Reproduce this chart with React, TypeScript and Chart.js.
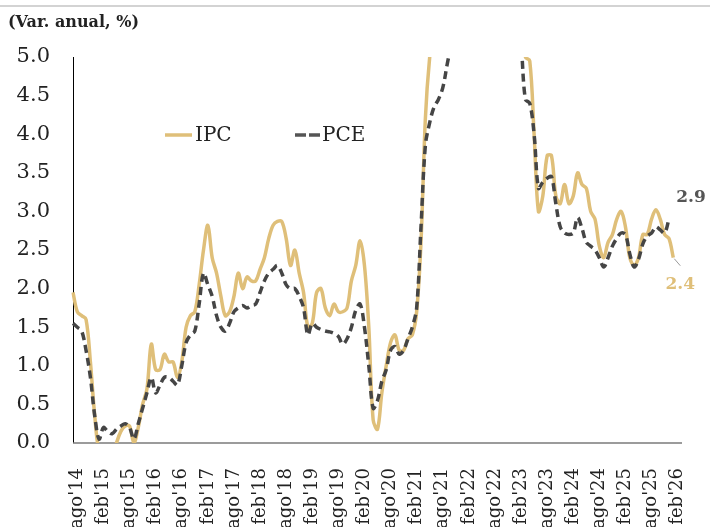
import { useEffect, useRef } from 'react';
import { Chart, registerables } from 'chart.js';

Chart.register(...registerables);

// ---- categories (monthly, jul'14 .. mar'26) ----
const MONTH_NAMES = ['ene', 'feb', 'mar', 'abr', 'may', 'jun', 'jul', 'ago', 'sep', 'oct', 'nov', 'dic'];
const FIRST_YEAR = 2014;
const FIRST_MONTH = 6; // julio
const N_MONTHS = 141;
const categories: string[] = Array.from({ length: N_MONTHS }, (_, i) => {
  const m = (FIRST_MONTH + i) % 12;
  const y = FIRST_YEAR + Math.floor((FIRST_MONTH + i) / 12);
  return `${MONTH_NAMES[m]}'${String(y).slice(2)}`;
});

// ---- tick labels shown on the x axis ----
const tickLabels = [
  "ago'14", "feb'15", "ago'15", "feb'16", "ago'16", "feb'17", "ago'17", "feb'18",
  "ago'18", "feb'19", "ago'19", "feb'20", "ago'20", "feb'21", "ago'21", "feb'22",
  "ago'22", "feb'23", "ago'23", "feb'24", "ago'24", "feb'25", "ago'25", "feb'26",
];

// ---- series (var. anual, %) ----
const ipc = [
  1.95, 1.7, 1.65, 1.6, 1.05, 0.35,
  -0.1, -0.05, -0.1, -0.2, 0.0, 0.15, 0.22, 0.22, 0.0, 0.2, 0.5, 0.7,
  1.28, 0.95, 0.95, 1.15, 1.05, 1.05, 0.85, 1.05, 1.5, 1.65, 1.7, 2.05,
  2.5, 2.82, 2.4, 2.2, 1.9, 1.65, 1.7, 1.9, 2.2, 2.0, 2.15, 2.1,
  2.1, 2.25, 2.4, 2.65, 2.82, 2.87, 2.87, 2.65, 2.3, 2.5, 2.2, 1.95,
  1.5, 1.55, 1.95, 2.0, 1.75, 1.65, 1.8, 1.7, 1.7, 1.75, 2.1, 2.3,
  2.62, 2.3, 1.5, 0.3, 0.18, 0.65, 1.0, 1.3, 1.4, 1.2, 1.2, 1.35,
  1.4, 1.7, 2.6, 4.2, 5.0, 5.4, 5.4, 5.3, 5.4, 6.2, 6.8, 7.0,
  7.5, 7.9, 8.5, 8.3, 8.6, 9.1, 8.5, 8.3, 8.2, 7.7, 7.1, 6.5,
  6.4, 6.0, 5.0, 4.95, 4.0, 3.0, 3.2, 3.72, 3.72, 3.2, 3.1, 3.35,
  3.1, 3.2, 3.5, 3.35, 3.3, 3.0, 2.9, 2.55, 2.4, 2.6, 2.7, 2.9,
  3.0, 2.8, 2.4, 2.3, 2.4, 2.7, 2.7, 2.9, 3.02, 2.9, 2.7, 2.65,
  2.4,
];

const pce = [
  1.55, 1.5, 1.45, 1.2, 0.85, 0.35,
  0.05, 0.2, 0.15, 0.12, 0.18, 0.22, 0.25, 0.2, 0.05, 0.25, 0.45, 0.65,
  0.85, 0.65, 0.75, 0.85, 0.85, 0.8, 0.75, 1.0, 1.3, 1.4, 1.45, 1.8,
  2.2, 2.05, 1.9, 1.65, 1.5, 1.45, 1.55, 1.7, 1.75, 1.78, 1.75, 1.78,
  1.8, 1.95, 2.1, 2.2, 2.25, 2.3, 2.2, 2.05, 2.0, 2.0, 1.9, 1.75,
  1.4, 1.55, 1.5, 1.47, 1.45, 1.44, 1.42, 1.38, 1.28, 1.35, 1.5, 1.72,
  1.8, 1.5, 1.0, 0.45, 0.55, 0.8, 0.95, 1.2, 1.25, 1.15, 1.2, 1.35,
  1.5, 1.75, 2.8, 3.85, 4.15, 4.35, 4.45, 4.6, 4.9, 5.2, 5.7, 6.0,
  6.2, 6.5, 6.8, 6.4, 6.5, 7.1, 6.6, 6.5, 6.5, 6.3, 5.8, 5.4,
  5.5, 5.15, 4.45, 4.4, 4.0, 3.3, 3.38, 3.43, 3.45, 3.1, 2.8, 2.72,
  2.7, 2.72, 2.92, 2.78, 2.6, 2.55, 2.5, 2.4, 2.28, 2.4, 2.55, 2.65,
  2.72, 2.7, 2.45, 2.28, 2.38, 2.58, 2.68, 2.72, 2.8, 2.76, 2.72, 2.9,
];

const GOLD = '#dfbf79';
const DARK = '#454545';
const FONT = '"DejaVu Serif", serif';

const decorPlugin = {
  id: 'decor',
  beforeDraw(chart: any) {
    const ctx = chart.ctx;
    ctx.save();
    ctx.strokeStyle = '#c4c4c4';
    ctx.lineWidth = 1.5;
    ctx.beginPath();
    ctx.moveTo(0, 6);
    ctx.lineTo(chart.width, 6);
    ctx.stroke();
    ctx.fillStyle = '#222';
    ctx.font = `bold 16px ${FONT}`;
    ctx.textBaseline = 'middle';
    ctx.textAlign = 'left';
    ctx.fillText('(Var. anual, %)', 8, 23);
    ctx.restore();
  },
  beforeDatasetsDraw(chart: any) {
    const ctx = chart.ctx;
    const a = chart.chartArea;
    ctx.save();
    ctx.strokeStyle = '#000';
    ctx.lineWidth = 1;
    ctx.beginPath();
    ctx.moveTo(a.left + 0.5, a.top);
    ctx.lineTo(a.left + 0.5, a.bottom);
    ctx.stroke();
    ctx.strokeStyle = '#7a7a7a';
    ctx.lineWidth = 1.5;
    ctx.beginPath();
    ctx.moveTo(a.left, a.bottom);
    ctx.lineTo(a.right, a.bottom);
    ctx.stroke();
    ctx.restore();
  },
  afterDatasetsDraw(chart: any) {
    const ctx = chart.ctx;
    const area = chart.chartArea;
    ctx.save();
    // legend
    const ly = 135;
    const lx = area.left + 92;
    ctx.lineWidth = 3.5;
    ctx.strokeStyle = GOLD;
    ctx.beginPath();
    ctx.moveTo(lx, ly);
    ctx.lineTo(lx + 27, ly);
    ctx.stroke();
    ctx.fillStyle = '#222';
    ctx.font = `20px ${FONT}`;
    ctx.textBaseline = 'middle';
    ctx.textAlign = 'left';
    ctx.fillText('IPC', lx + 30, ly + 1);
    const px = lx + 130;
    ctx.strokeStyle = '#555';
    ctx.beginPath();
    ctx.moveTo(px, ly);
    ctx.lineTo(px + 11, ly);
    ctx.moveTo(px + 14, ly);
    ctx.lineTo(px + 25, ly);
    ctx.stroke();
    ctx.fillText('PCE', px + 27, ly + 1);

    // end labels
    const pceMeta = chart.getDatasetMeta(0);
    const ipcMeta = chart.getDatasetMeta(1);
    const pEnd = pceMeta.data[pceMeta.data.length - 1];
    const iEnd = ipcMeta.data[ipcMeta.data.length - 1];
    ctx.font = `bold 17px ${FONT}`;
    ctx.textAlign = 'center';
    ctx.fillStyle = '#555';
    ctx.fillText(pce[pce.length - 1].toFixed(1), pEnd.x + 22, pEnd.y - 22);
    ctx.strokeStyle = '#9a9a9a';
    ctx.lineWidth = 1;
    ctx.beginPath();
    ctx.moveTo(iEnd.x + 1, iEnd.y + 1);
    ctx.lineTo(iEnd.x + 7, iEnd.y + 8);
    ctx.stroke();
    ctx.fillStyle = GOLD;
    ctx.fillText(ipc[ipc.length - 1].toFixed(1), iEnd.x + 7, iEnd.y + 27);
    ctx.restore();
  },
};

export default function App() {
  const ref = useRef<HTMLCanvasElement | null>(null);
  useEffect(() => {
    if (!ref.current) return;
    Chart.defaults.font.family = FONT;
    const chart = new Chart(ref.current, {
      type: 'line',
      data: {
        labels: categories,
        datasets: [
          {
            label: 'PCE',
            data: pce,
            borderColor: DARK,
            borderWidth: 3.5,
            borderDash: [8, 5],
            borderCapStyle: 'butt',
            pointRadius: 0,
            tension: 0.35,
            fill: false,
            order: 0,
          },
          {
            label: 'IPC',
            data: ipc,
            borderColor: GOLD,
            borderWidth: 3.5,
            pointRadius: 0,
            tension: 0.35,
            fill: false,
            order: 1,
          },
        ],
      },
      options: {
        responsive: false,
        animation: false,
        layout: { padding: { top: 57, right: 28, left: 0, bottom: 0 } },
        plugins: {
          legend: { display: false },
          tooltip: { enabled: false },
        },
        scales: {
          x: {
            type: 'category',
            offset: false,
            grid: { display: false },
            border: { display: false },
            ticks: {
              autoSkip: false,
              minRotation: 90,
              maxRotation: 90,
              padding: 17,
              color: '#222',
              font: { size: 18 },
              callback: (_v: any, i: number) => (tickLabels.includes(categories[i]) ? categories[i] : ''),
            },
            afterFit: (s: any) => {
              s.height = 84;
              s.paddingLeft = 0;
              s.paddingRight = 0;
            },
          },
          y: {
            min: 0,
            max: 5,
            grid: { display: false },
            border: { display: false },
            ticks: {
              stepSize: 0.5,
              padding: 15,
              color: '#222',
              font: { size: 21 },
              callback: (v: any) => Number(v).toFixed(1),
            },
            afterFit: (s: any) => {
              s.width = 73;
              s.paddingTop = 0;
              s.paddingBottom = 0;
            },
          },
        },
      },
      plugins: [decorPlugin],
    } as any);
    return () => chart.destroy();
  }, []);
  return (
    <div style={{ position: 'absolute', left: 0, top: 0, width: 710, height: 527, background: '#fff' }}>
      <canvas ref={ref} width={710} height={527} />
    </div>
  );
}
